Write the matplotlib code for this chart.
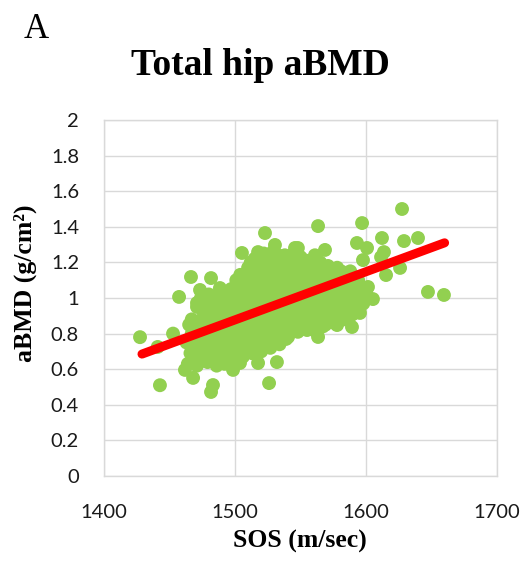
import matplotlib
matplotlib.use("Agg")
import matplotlib.pyplot as plt

# ---- data ----
# dense core of the cloud, written column by column
sos = [
    1464, 1466, 1463, 1467, 1465,
    1471, 1474, 1470, 1475, 1472, 1476, 1471, 1474,
    1479, 1477, 1482, 1478, 1481, 1477, 1483, 1480,
    1486, 1489, 1485, 1488, 1484, 1490, 1487, 1485,
    1492, 1495, 1491, 1496, 1493, 1497, 1494, 1491,
    1499, 1502, 1498, 1503, 1500, 1504, 1499, 1502, 1501,
    1506, 1509, 1505, 1510, 1507, 1511, 1506, 1509, 1505, 1510,
    1513, 1516, 1512, 1517, 1514, 1518, 1513, 1516, 1512, 1517, 1515,
    1520, 1523, 1519, 1524, 1521, 1525, 1520, 1523, 1519, 1524, 1522,
    1527, 1530, 1526, 1531, 1528, 1532, 1527, 1530, 1526, 1531, 1529,
    1534, 1537, 1533, 1538, 1535, 1539, 1534, 1537, 1533, 1538,
    1541, 1544, 1540, 1545, 1542, 1546, 1541, 1544, 1543,
    1548, 1551, 1547, 1552, 1549, 1553, 1548, 1551, 1550,
    1555, 1558, 1554, 1559, 1556, 1560, 1555, 1558,
    1562, 1565, 1561, 1566, 1563, 1567, 1562, 1565,
    1569, 1572, 1568, 1573, 1570, 1574, 1571,
    1576, 1579, 1575, 1580, 1577, 1581, 1578,
    1583, 1586, 1582, 1587, 1584, 1588,
    1590, 1593, 1589, 1594, 1591,
    1598, 1602, 1600,
]
bmd = [
    0.63, 0.69, 0.75, 0.80, 0.85,
    0.62, 0.67, 0.73, 0.78, 0.84, 0.89, 0.95, 1.00,
    0.64, 0.69, 0.74, 0.80, 0.85, 0.91, 0.96, 1.02,
    0.62, 0.67, 0.73, 0.78, 0.84, 0.89, 0.95, 1.01,
    0.63, 0.69, 0.74, 0.80, 0.85, 0.91, 0.96, 1.02,
    0.65, 0.70, 0.76, 0.81, 0.87, 0.92, 0.98, 1.04, 1.10,
    0.67, 0.72, 0.78, 0.83, 0.89, 0.94, 1.00, 1.06, 1.12, 1.17,
    0.69, 0.74, 0.80, 0.85, 0.91, 0.96, 1.02, 1.07, 1.13, 1.18, 1.22,
    0.70, 0.75, 0.81, 0.86, 0.92, 0.98, 1.03, 1.09, 1.14, 1.20, 1.25,
    0.72, 0.77, 0.83, 0.88, 0.94, 0.99, 1.05, 1.10, 1.16, 1.21, 1.26,
    0.74, 0.79, 0.85, 0.90, 0.96, 1.01, 1.07, 1.13, 1.18, 1.24,
    0.80, 0.85, 0.91, 0.96, 1.02, 1.08, 1.13, 1.19, 1.24,
    0.81, 0.86, 0.92, 0.97, 1.03, 1.08, 1.14, 1.19, 1.23,
    0.82, 0.87, 0.93, 0.98, 1.04, 1.10, 1.15, 1.21,
    0.81, 0.87, 0.92, 0.98, 1.03, 1.09, 1.15, 1.20,
    0.85, 0.90, 0.96, 1.01, 1.07, 1.12, 1.18,
    0.86, 0.91, 0.97, 1.02, 1.08, 1.13, 1.17,
    0.88, 0.93, 0.99, 1.04, 1.10, 1.15,
    0.91, 0.96, 1.02, 1.07, 1.12,
    0.97, 1.00, 1.04,
]

# more points in between the columns of the core
sos_mid = [
    1468, 1469, 1468, 1469, 1467,
    1476, 1477, 1476, 1475, 1477, 1476, 1477,
    1483, 1484, 1483, 1482, 1484, 1483, 1484,
    1490, 1491, 1489, 1490, 1491, 1490, 1489,
    1497, 1498, 1497, 1496, 1498, 1497, 1498, 1497,
    1504, 1505, 1503, 1504, 1505, 1504, 1503, 1505, 1504,
    1511, 1512, 1511, 1510, 1512, 1511, 1510, 1512, 1511, 1512,
    1518, 1519, 1518, 1517, 1519, 1518, 1517, 1519, 1518, 1519,
    1525, 1526, 1525, 1524, 1526, 1525, 1524, 1526, 1525, 1526,
    1532, 1533, 1532, 1531, 1533, 1532, 1531, 1533, 1532, 1533,
    1539, 1540, 1539, 1538, 1540, 1539, 1538, 1540, 1539,
    1546, 1547, 1546, 1545, 1547, 1546, 1545, 1547,
    1553, 1554, 1553, 1552, 1554, 1553, 1552, 1554,
    1560, 1561, 1560, 1559, 1561, 1560, 1559,
    1567, 1568, 1567, 1566, 1568, 1567, 1566,
    1574, 1575, 1574, 1573, 1575, 1574,
    1581, 1582, 1581, 1580, 1582, 1581,
    1588, 1589, 1588, 1587, 1589,
    1595, 1596, 1595, 1594,
]
bmd_mid = [
    0.66, 0.72, 0.78, 0.83, 0.88,
    0.65, 0.70, 0.76, 0.81, 0.87, 0.92, 0.98,
    0.65, 0.71, 0.76, 0.82, 0.87, 0.93, 0.99,
    0.65, 0.70, 0.76, 0.81, 0.87, 0.92, 0.98,
    0.66, 0.72, 0.77, 0.83, 0.88, 0.94, 0.99, 1.05,
    0.68, 0.73, 0.79, 0.84, 0.90, 0.95, 1.01, 1.07, 1.13,
    0.70, 0.75, 0.81, 0.86, 0.92, 0.97, 1.03, 1.09, 1.15, 1.20,
    0.71, 0.77, 0.82, 0.88, 0.94, 0.99, 1.05, 1.10, 1.16, 1.21,
    0.73, 0.78, 0.84, 0.89, 0.95, 1.01, 1.06, 1.12, 1.17, 1.23,
    0.75, 0.80, 0.86, 0.91, 0.97, 1.02, 1.08, 1.13, 1.19, 1.24,
    0.77, 0.82, 0.88, 0.93, 0.99, 1.04, 1.10, 1.16, 1.21,
    0.83, 0.88, 0.94, 0.99, 1.05, 1.11, 1.16, 1.21,
    0.84, 0.89, 0.95, 1.00, 1.06, 1.11, 1.17, 1.21,
    0.84, 0.90, 0.95, 1.01, 1.07, 1.12, 1.18,
    0.84, 0.89, 0.95, 1.00, 1.06, 1.12, 1.17,
    0.87, 0.93, 0.98, 1.04, 1.10, 1.15,
    0.89, 0.94, 1.00, 1.05, 1.11, 1.15,
    0.90, 0.96, 1.02, 1.07, 1.12,
    0.94, 0.99, 1.05, 1.10,
]

# scattered points around the edge of the cloud
sos_edge = [
    1427.5, 1441, 1442.7, 1452.7, 1457.3, 1461.8, 1468, 1483.2, 1481.7,
    1498.5, 1503.8, 1517.6, 1532, 1526, 1466.4, 1481.7, 1473.3, 1471,
    1488.5, 1505.3, 1517.6, 1522.9, 1530.5, 1545.8, 1548, 1561, 1568.7,
    1563.4, 1597, 1593.1, 1600.8, 1597.7, 1611.5, 1612.2, 1613.7, 1615.3,
    1626, 1627.5, 1629, 1639.7, 1601.5, 1605.3, 1647.3, 1659.5, 1589.3,
    1577.9, 1595.4, 1563.4, 1540.5,
]
bmd_edge = [
    0.78, 0.725, 0.51, 0.80, 1.006, 0.596, 0.551, 0.511, 0.472,
    0.596, 0.635, 0.635, 0.64, 0.522, 1.118, 1.112, 1.045, 0.972,
    1.056, 1.253, 1.258, 1.365, 1.298, 1.281, 1.281, 1.24, 1.27,
    1.404, 1.421, 1.309, 1.281, 1.213, 1.23, 1.337, 1.258, 1.129,
    1.169, 1.50, 1.32, 1.337, 1.062, 0.994, 1.034, 1.017, 0.837,
    0.848, 0.916, 0.781, 0.781,
]

trend_x = [1429, 1660]
trend_y = [0.685, 1.31]

xticks = [1400, 1500, 1600, 1700]
yticks = [0, 0.2, 0.4, 0.6, 0.8, 1.0, 1.2, 1.4, 1.6, 1.8, 2.0]
ytick_labels = ["0", "0.2", "0.4", "0.6", "0.8", "1", "1.2", "1.4", "1.6", "1.8", "2"]

# ---- drawing ----
W, H = 526, 566
fig = plt.figure(figsize=(W / 100, H / 100), dpi=100)
ax = fig.add_axes([104 / W, 1 - 476 / H, (497 - 104) / W, (476 - 120) / H])

green = "#92D050"
msize = 100
ax.scatter(sos, bmd, s=msize, color=green, edgecolors="none", zorder=2)
ax.scatter(sos_mid, bmd_mid, s=msize, color=green, edgecolors="none", zorder=2)
ax.scatter(sos_edge, bmd_edge, s=msize, color=green, edgecolors="none", zorder=2)
ax.plot(trend_x, trend_y, color="#FF0000", lw=6.5, solid_capstyle="round", zorder=3)

ax.set_xlim(1400, 1700)
ax.set_ylim(0, 2)
ax.set_xticks(xticks)
ax.set_xticklabels([str(t) for t in xticks])
ax.set_yticks(yticks)
ax.set_yticklabels(ytick_labels)
ax.grid(color="#D9D9D9", lw=1.0)
ax.set_axisbelow(True)
for s in ax.spines.values():
    s.set_color("#D9D9D9")
    s.set_linewidth(1.0)
ax.tick_params(axis="both", length=0, labelsize=14.5, labelcolor="#1a1a1a")
ax.tick_params(axis="x", pad=20)
ax.tick_params(axis="y", pad=18)
for lab in ax.get_xticklabels() + ax.get_yticklabels():
    lab.set_family("Lato")

serif = "Liberation Serif"
fig.text(24 / W, 1 - 38 / H, "A", fontsize=25, family=serif, va="baseline", ha="left")
fig.text(260 / W, 1 - 75 / H, "Total hip aBMD", fontsize=27, family=serif,
         weight="bold", ha="center", va="baseline")
fig.text(300 / W, 1 - 548 / H, "SOS (m/sec)", fontsize=18.5, family=serif,
         weight="bold", ha="center", va="baseline")
fig.text(25 / W, 1 - 283 / H, "aBMD (g/cm²)", fontsize=18.5, family=serif,
         weight="bold", ha="center", va="center", rotation=90)

fig.savefig("out.png", dpi=100)
